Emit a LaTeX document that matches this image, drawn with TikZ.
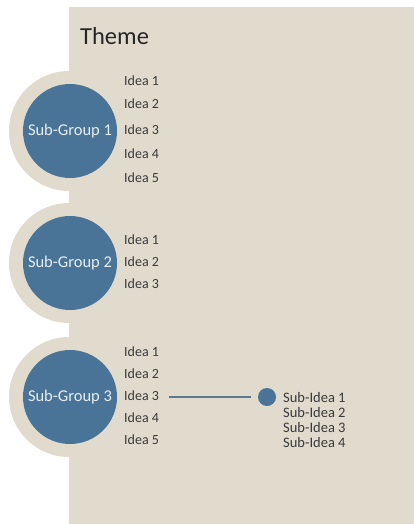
\documentclass[tikz,border=0pt]{standalone}
\usepackage{fontspec}
\setmainfont{Carlito}
\definecolor{panel}{HTML}{E0DBCD}
\definecolor{bluefill}{HTML}{4A7497}
\definecolor{linkcol}{HTML}{5C7A8E}
\definecolor{textcol}{HTML}{3A3A3A}
\definecolor{circtext}{HTML}{E6EEF0}
\begin{document}
\begin{tikzpicture}[x=1pt,y=-1pt,
  halo/.style={circle,fill=panel,minimum size=120pt,inner sep=0pt},
  group/.style={circle,fill=bluefill,minimum size=94pt,inner sep=0pt,text=circtext,font=\fontsize{16.5}{18}\selectfont},
  idea/.style={anchor=west,text=textcol,font=\fontsize{14}{15}\selectfont,inner sep=0pt},
  subidea/.style={idea,font=\fontsize{14.5}{15}\selectfont},
  dot/.style={circle,fill=bluefill,minimum size=18pt,inner sep=0pt},
  link/.style={draw=linkcol,line width=1.8pt}]
\useasboundingbox (0,0) rectangle (414,524);
\fill[white] (0,0) rectangle (414,524);
% background panel
\fill[panel] (69,7) rectangle (414,524);
\node[anchor=west,text=black!85,font=\fontsize{24.5}{28}\selectfont,inner sep=0pt] (theme) at (80,36) {Theme};
% halos behind the groups
\node[halo] (h1) at (69,131) {};
\node[halo] (h2) at (69,263) {};
\node[halo] (h3) at (69,397) {};
% groups
\node[group] (g1) at (70,131) {Sub-Group 1};
\node[group] (g2) at (70,263) {Sub-Group 2};
\node[group] (g3) at (70,397) {Sub-Group 3};
% ideas of group 1
\node[idea] (a1) at (124,81) {Idea 1};
\node[idea] (a2) at (124,104) {Idea 2};
\node[idea] (a3) at (124,130) {Idea 3};
\node[idea] (a4) at (124,154) {Idea 4};
\node[idea] (a5) at (124,178) {Idea 5};
% ideas of group 2
\node[idea] (b1) at (124,240) {Idea 1};
\node[idea] (b2) at (124,262) {Idea 2};
\node[idea] (b3) at (124,284) {Idea 3};
% ideas of group 3
\node[idea] (c1) at (124,352) {Idea 1};
\node[idea] (c2) at (124,374) {Idea 2};
\node[idea] (c3) at (124,396) {Idea 3};
\node[idea] (c4) at (124,418) {Idea 4};
\node[idea] (c5) at (124,440) {Idea 5};
% sub-ideas
\node[dot] (d) at (267,397) {};
\node[subidea] (s1) at (283,398) {Sub-Idea 1};
\node[subidea] (s2) at (283,413) {Sub-Idea 2};
\node[subidea] (s3) at (283,428) {Sub-Idea 3};
\node[subidea] (s4) at (283,443) {Sub-Idea 4};
\coordinate (lstart) at (169,397);
\draw[link,shorten >=7pt] (lstart) -- (d.west);
\end{tikzpicture}
\end{document}
